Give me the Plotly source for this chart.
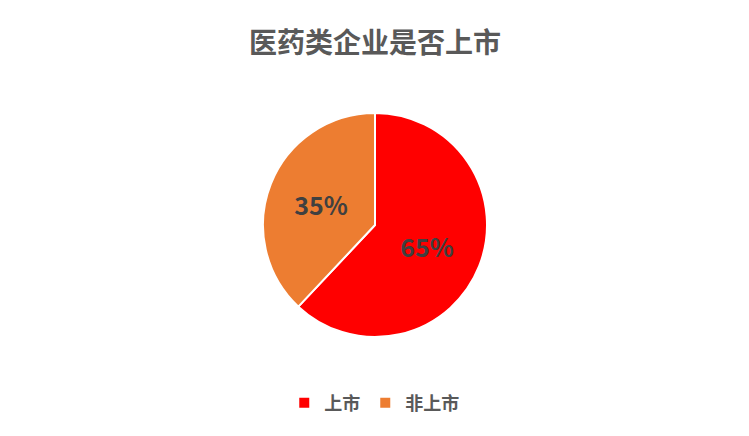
import plotly.graph_objects as go

title = "医药类企业是否上市"
categories = ["上市", "非上市"]
slice_values = [62, 38]
label_texts = ["65%", "35%"]
colors = ["#FF0000", "#ED7D31"]

FONT = "Noto Sans CJK SC, Microsoft YaHei, sans-serif"
GRAY = "#595959"
W, H = 749, 436
OFF = 8  # page body margin

fig = go.Figure(go.Pie(
    labels=categories,
    values=slice_values,
    text=label_texts,
    textinfo="text",
    textposition="inside",
    insidetextorientation="horizontal",
    sort=False,
    direction="clockwise",
    rotation=0,
    marker=dict(colors=colors, line=dict(color="white", width=2)),
    textfont=dict(family=FONT, size=25, color="#404040", weight="bold"),
    domain=dict(x=[0, (375 - OFF) * 2 / W], y=[(H - (337 - OFF)) / H, (H - (113 - OFF)) / H]),
    hoverinfo="label+percent",
))

fig.update_layout(
    width=W, height=H,
    margin=dict(l=0, r=0, t=0, b=0),
    paper_bgcolor="white", plot_bgcolor="white",
    title=dict(text=title, x=(375 - OFF) / W, xanchor="center", y=1 - (43 - OFF) / H, yanchor="middle",
               font=dict(family=FONT, size=28, color=GRAY, weight="bold")),
    legend=dict(orientation="h", x=0.489, xanchor="center", y=1 - (403 - OFF) / H, yanchor="middle",
                font=dict(family=FONT, size=18, color=GRAY, weight="bold"),
                itemsizing="constant", traceorder="normal"),
    showlegend=True,
)

fig.write_html("out.html")
